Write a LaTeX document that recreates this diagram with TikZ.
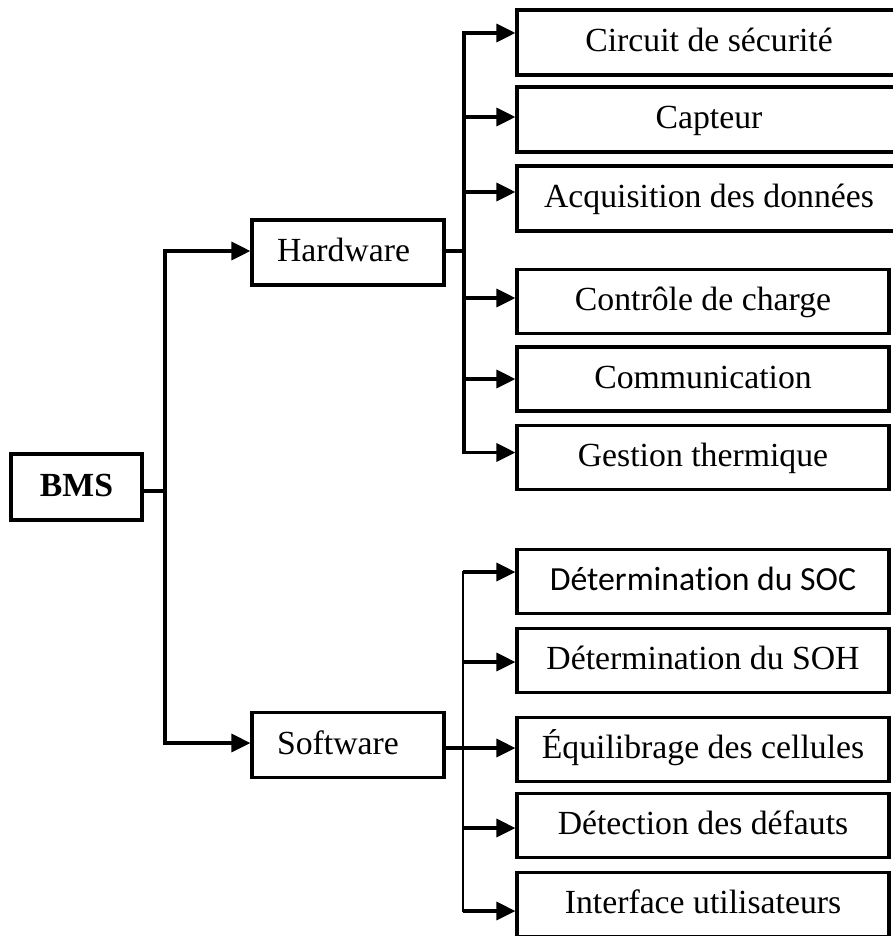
\documentclass[tikz,border=0pt]{standalone}
\usepackage{fontspec}
\setmainfont{Liberation Serif}
\newfontfamily\calibrifont[Ligatures=NoCommon]{Carlito}
\usetikzlibrary{arrows.meta}
\begin{document}
\begin{tikzpicture}[x=1pt,y=-1pt,
  box/.style={draw, line width=3.2pt, inner sep=0pt, text height=24pt, text depth=6pt,
    font=\fontsize{33.75}{40}\selectfont},
  rootbox/.style={box, line width=4pt, minimum width=131pt, minimum height=66pt, font=\fontsize{33.75}{40}\selectfont\bfseries},
  midbox/.style={box, minimum height=65pt, inner xsep=25pt, text width=142pt, align=left},
  widebox/.style={box, minimum width=384pt, minimum height=65pt},
  leafbox/.style={box, minimum width=372pt, minimum height=64pt},
  conn/.style={line width=3.2pt},
  thinbus/.style={line width=2.4pt, line cap=rect},
  tip/.style={conn, -{Triangle[length=19pt,width=18pt]}}]
\useasboundingbox (0,0) rectangle (893,936);
\clip (0,0) rectangle (893,936);

% root and the two branches
\node[rootbox] (bms) at (76.5,487) {BMS};
\node[midbox] (hw) at (348,252.5) {Hardware};
\node[midbox] (sw) at (348,745) {Software};

% hardware functions
\node[widebox] (h1) at (709,42.5) {Circuit de sécurité};
\node[widebox] (h2) at (709,119.5) {Capteur};
\node[widebox] (h3) at (709,198.5) {Acquisition des données};
\node[leafbox] (h4) at (703,301.5) {Contrôle de charge};
\node[leafbox] (h5) at (703,379) {Communication};
\node[leafbox] (h6) at (703,457.5) {Gestion thermique};

% software functions
\node[leafbox, font=\fontsize{33.75}{40}\selectfont\calibrifont] (s1) at (703,581.5) {Détermination du SOC};
\node[leafbox] (s2) at (703,660.5) {Détermination du SOH};
\node[leafbox] (s3) at (703,749.5) {Équilibrage des cellules};
\node[leafbox] (s4) at (703,825.5) {Détection des défauts};
\node[leafbox] (s5) at (703,904.5) {Interface utilisateurs};

% entry points of the arrows on each box
\coordinate (bmsout) at ([yshift=-4pt]bms.east);
\coordinate (hwin) at ([yshift=1.5pt]hw.west);
\coordinate (hwout) at ([yshift=1.5pt]hw.east);
\coordinate (swin) at ([yshift=2pt]sw.west);
\coordinate (swout) at ([yshift=-3pt]sw.east);
\coordinate (h1in) at ([yshift=9.5pt]h1.west);
\coordinate (h2in) at ([yshift=2.5pt]h2.west);
\coordinate (h3in) at ([yshift=6.5pt]h3.west);
\coordinate (h4in) at ([yshift=3.5pt]h4.west);
\coordinate (h5in) at (h5.west);
\coordinate (h6in) at ([yshift=5pt]h6.west);
\coordinate (s1in) at ([yshift=9.5pt]s1.west);
\coordinate (s2in) at ([yshift=-1.5pt]s2.west);
\coordinate (s3in) at ([yshift=1.5pt]s3.west);
\coordinate (s4in) at ([yshift=-2.5pt]s4.west);
\coordinate (s5in) at ([yshift=-6.5pt]s5.west);

% bus positions
\coordinate (rootjoin) at (165,491);
\coordinate (hwjoin) at (464,251);
\coordinate (swbus) at (463,0);

% root to branches
\draw[conn] (bmsout) -- (rootjoin);
\draw[tip] (rootjoin) |- (hwin);
\draw[tip] (rootjoin) |- (swin);

% hardware bus
\draw[conn] (hwout) -- (hwjoin);
\draw[tip] (hwjoin) |- (h1in);
\draw[tip] (hwjoin) |- (h6in);
\draw[tip] (hwjoin |- h2in) -- (h2in);
\draw[tip] (hwjoin |- h3in) -- (h3in);
\draw[tip] (hwjoin |- h4in) -- (h4in);
\draw[tip] (hwjoin |- h5in) -- (h5in);

% software bus
\draw[thinbus] (swbus |- s1in) -- (swbus |- s5in);
\draw[tip] (swout) -- (s3in);
\draw[tip] (swbus |- s1in) -- (s1in);
\draw[tip] (swbus |- s2in) -- (s2in);
\draw[tip] (swbus |- s4in) -- (s4in);
\draw[tip] (swbus |- s5in) -- (s5in);
\end{tikzpicture}
\end{document}
